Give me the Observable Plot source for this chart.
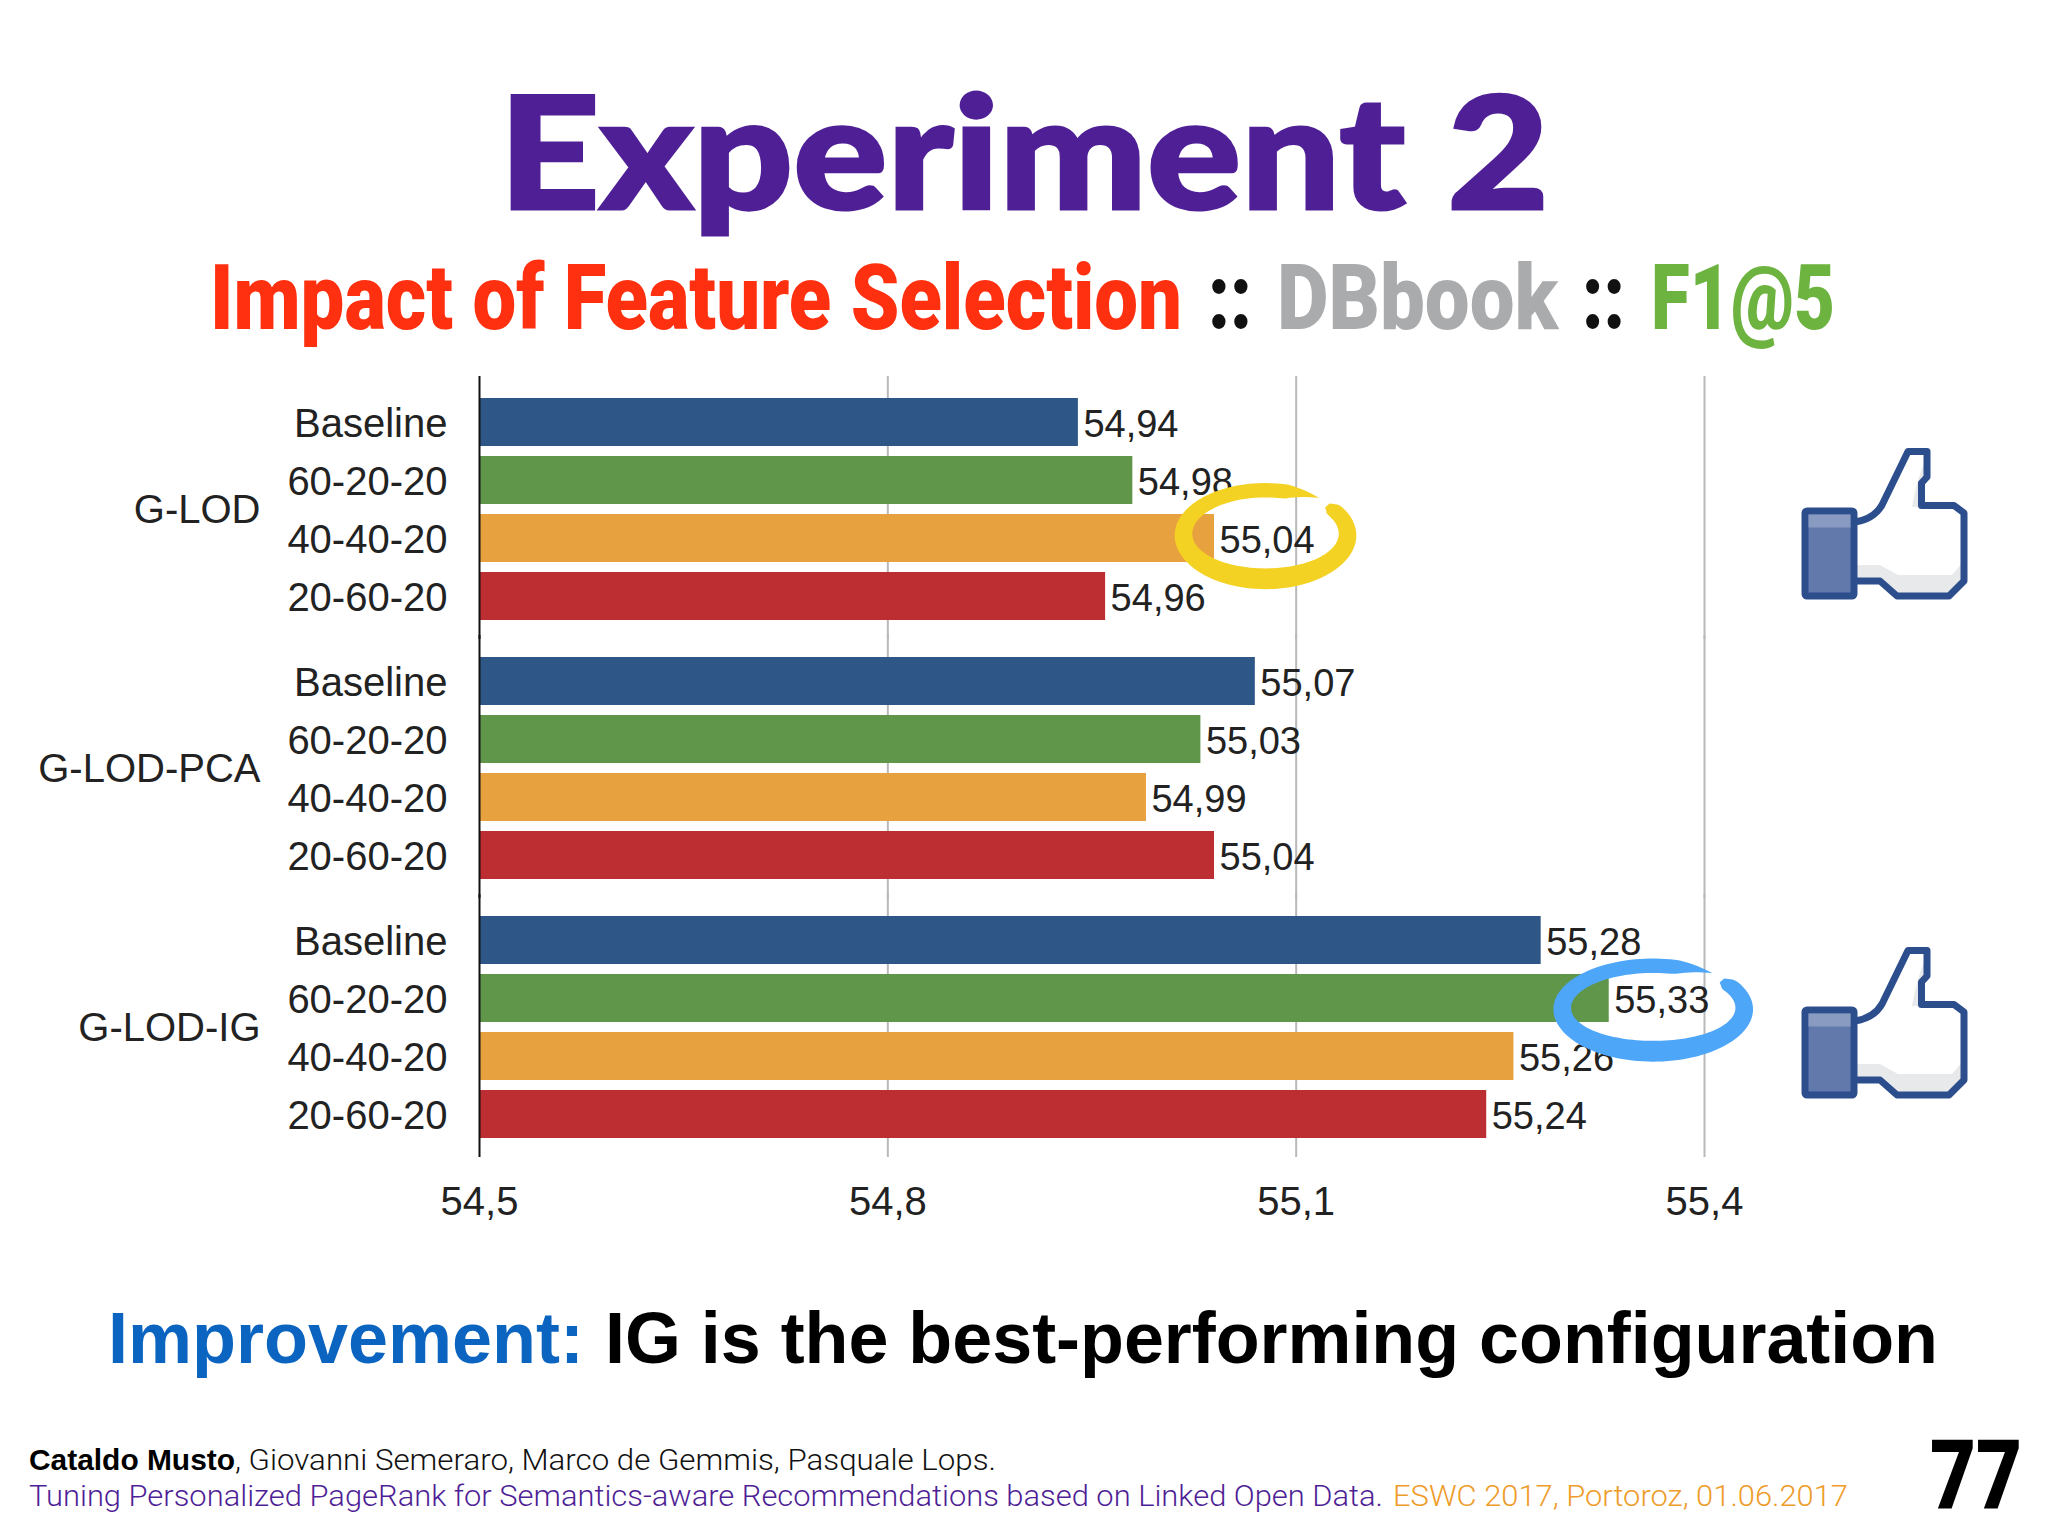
<!DOCTYPE html>
<html>
<head>
<meta charset="utf-8">
<script src="https://cdn.jsdelivr.net/npm/d3@7"></script>
<script src="https://cdn.jsdelivr.net/npm/@observablehq/plot@0.6"></script>
<style>
html,body{margin:0;padding:0;background:#fff;}
body{width:2048px;height:1536px;overflow:hidden;position:relative;}
#header{position:relative;height:350px;}
#chart{position:relative;height:900px;}
#footer{position:relative;height:286px;}
.t{position:absolute;white-space:pre;transform-origin:0 0;left:0;top:0;}
.thumb{position:absolute;left:1800px;}
svg{overflow:visible;}
g[aria-label="ring"]{filter:drop-shadow(2px 4px 3px rgba(0,0,0,.32));}
</style>
</head>
<body>
<div id="header"></div>
<div id="chart"></div>
<div id="footer"></div>
<script>
const groups = ["G-LOD", "G-LOD-PCA", "G-LOD-IG"];
const configs = ["Baseline", "60-20-20", "40-40-20", "20-60-20"];
const gLod = [54.94, 54.98, 55.04, 54.96];
const gLodPca = [55.07, 55.03, 54.99, 55.04];
const gLodIg = [55.28, 55.33, 55.26, 55.24];
const configColors = ["#2e5788", "#5f964a", "#e8a13f", "#bd2e33"];
const xTicks = [54.5, 54.8, 55.1, 55.4];
const highlights = [
  {group: "G-LOD", config: "40-40-20", value: 55.04},
  {group: "G-LOD-IG", config: "60-20-20", value: 55.33}
];

const rows = [gLod, gLodPca, gLodIg].flatMap((vals, g) =>
  vals.map((value, i) => ({group: groups[g], config: configs[i], value})));
const comma = d => String(d).replace(".", ",");

const sans = "'Liberation Sans'";
const labelFont = {fontFamily: sans, fontSize: 38, fill: "#222"};
const axisStyle = {fontFamily: sans, fontSize: 40, color: "#222", tickSize: 0};

/* brush-stroke ellipse used as the highlight symbol around a value */
function brushRing(aspect) {
  return {
    draw(ctx, size) {
      const R = Math.sqrt(size / Math.PI), N = 120;
      const start = -41 * Math.PI / 180, span = 350 * Math.PI / 180;
      const outer = [], inner = [];
      for (let i = 0; i <= N; ++i) {
        const t = i / N, th = start + span * t;
        let hw = 8.8 + 1.6 * Math.sin(th);
        if (t > 0.93) hw *= (1 - t) / 0.07;
        if (t < 0.02) hw *= Math.sqrt(Math.max(t / 0.02, 0.15));
        const cx = R * Math.cos(th), cy = R * aspect * Math.sin(th);
        const drift = t > 0.93 ? (t - 0.93) * 40 : 0;
        outer.push([cx + (hw + drift) * Math.cos(th), cy + (hw + drift) * Math.sin(th)]);
        inner.push([cx + (drift - hw) * Math.cos(th), cy + (drift - hw) * Math.sin(th)]);
      }
      outer.forEach(([x, y], i) => i ? ctx.lineTo(x, y) : ctx.moveTo(x, y));
      inner.reverse().forEach(([x, y]) => ctx.lineTo(x, y));
      ctx.closePath();
    }
  };
}

const plot = Plot.plot({
  width: 2048,
  height: 900,
  marginTop: 48,
  marginBottom: 112,
  marginLeft: 479,
  marginRight: 344,
  style: {background: "transparent", overflow: "visible"},
  x: {domain: [xTicks[0], xTicks[xTicks.length - 1]], label: null},
  y: {domain: configs, paddingInner: 10 / 58, paddingOuter: 0, label: null},
  fy: {domain: groups, paddingInner: 37 / 259, paddingOuter: 0, label: null},
  color: {domain: configs, range: configColors},
  marks: [
    Plot.ruleX(xTicks.slice(1), {stroke: "#b9b9b9", strokeWidth: 2, insetTop: -22, insetBottom: -19}),
    Plot.barX(rows, {x1: () => xTicks[0], x2: "value", y: "config", fy: "group", fill: "config"}),
    Plot.ruleX(xTicks.slice(0, 1), {stroke: "#111", strokeWidth: 2, insetTop: -22, insetBottom: -19}),
    Plot.text(rows, {x: "value", y: "config", fy: "group", text: d => comma(d.value), textAnchor: "start", dx: 5, dy: 2, ...labelFont}),
    Plot.dot(highlights.slice(0, 1), {x: "value", y: "config", fy: "group", r: 82, dx: 51, dy: -4,
      symbol: brushRing(0.54), fill: "#f4d224", stroke: "none", ariaLabel: "ring"}),
    Plot.dot(highlights.slice(1), {x: "value", y: "config", fy: "group", r: 91, dx: 44, dy: 10,
      symbol: brushRing(0.47), fill: "#4da6f7", stroke: "none", ariaLabel: "ring"}),
    Plot.axisY({anchor: "left", tickPadding: 32, dy: 2, label: null, ...axisStyle}),
    Plot.axisFy({anchor: "left", tickPadding: 219, dy: 1, label: null, ...axisStyle}),
    Plot.axisX(xTicks, {anchor: "bottom", tickPadding: 48, tickFormat: comma, label: null, ...axisStyle})
  ]
});
document.getElementById("chart").appendChild(plot);

/* thumbs-up pictograms beside the two highlighted groups */
const thumbSvg = `
<svg width="172" height="156" viewBox="0 0 172 156" xmlns="http://www.w3.org/2000/svg">
  <path d="M56 134 L80 134 L97 148 L150 148 L164 134 L164 114 L152 128 L98 128 L80 118 L56 118Z" fill="#e8e9ea"/>
  <path d="M124 16 L124 60 L112 60 Q116 36 124 16Z" fill="#e8e9ea"/>
  <path d="M55 75 Q74 72 82 58 L108 4.5 L127 4.5 L127 30 L121.500 36 L121.500 58.500 L154 58.500 L164 66 L164 134 L149 149 L97 149 L80 134 L55 134"
    fill="none" stroke="#2d4e8d" stroke-width="7" stroke-linejoin="round"/>
  <rect x="5" y="64" width="49" height="85" rx="2" fill="#6279ac" stroke="#2d4e8d" stroke-width="7" stroke-linejoin="round"/>
  <rect x="8.500" y="67.500" width="42" height="13" fill="#8a9bc2"/>
</svg>`;
[97, 596].forEach(top => {
  const d = document.createElement("div");
  d.className = "thumb";
  d.style.top = top + "px";
  d.innerHTML = thumbSvg;
  document.getElementById("chart").appendChild(d);
});

/* slide text: placed by page left edge, baseline and width */
function place(parent, offsetY, text, left, baseline, width, css, color) {
  const el = document.createElement("div");
  el.className = "t";
  el.style.cssText = css + ";color:" + color;
  const strut = document.createElement("span");
  strut.style.cssText = "display:inline-block;width:0;height:0";
  el.appendChild(strut);
  el.appendChild(document.createTextNode(text));
  parent.appendChild(el);
  const box = el.getBoundingClientRect();
  const base = strut.getBoundingClientRect().bottom - box.top;
  const sx = width / box.width;
  el.style.transform = `translate(${left}px,${baseline - offsetY - base}px) scaleX(${sx})`;
}
const head = document.getElementById("header"), foot = document.getElementById("footer");
const sub = "font:900 91px Roboto";
place(head, 0, "Experiment 2", 499, 209, 1050, "font:900 156px Lato;-webkit-text-stroke:3px #4f1f96", "#4f1f96");
place(head, 0, "Impact of Feature Selection", 210, 329, 972, sub, "#ff3010");
place(head, 0, "::", 1208, 329, 44, sub, "#111");
place(head, 0, "DBbook", 1277, 329, 281, sub, "#a9abad");
place(head, 0, "::", 1582, 329, 43, sub, "#111");
place(head, 0, "F1@5", 1651, 329, 184, sub, "#6db33f");
const imp = "font:700 73px 'Liberation Sans'";
place(foot, 1250, "Improvement:", 108, 1363, 476, imp, "#0a64c0");
place(foot, 1250, "IG is the best-performing configuration", 605, 1363, 1333, imp, "#000");
place(foot, 1250, "Cataldo Musto", 29, 1470, 206, "font:700 30px 'Liberation Sans'", "#000");
place(foot, 1250, ", Giovanni Semeraro, Marco de Gemmis, Pasquale Lops.", 235, 1470, 761, "font:300 30px Roboto", "#111");
place(foot, 1250, "Tuning Personalized PageRank for Semantics-aware Recommendations based on Linked Open Data.", 29, 1506, 1354, "font:300 30px Roboto", "#4f1f96");
place(foot, 1250, "ESWC 2017, Portoroz, 01.06.2017", 1393, 1506, 455, "font:300 30px Roboto", "#ee9c2a");
place(foot, 1250, "77", 1930, 1508, 92, "font:900 97px Roboto", "#000");
</script>
</body>
</html>
